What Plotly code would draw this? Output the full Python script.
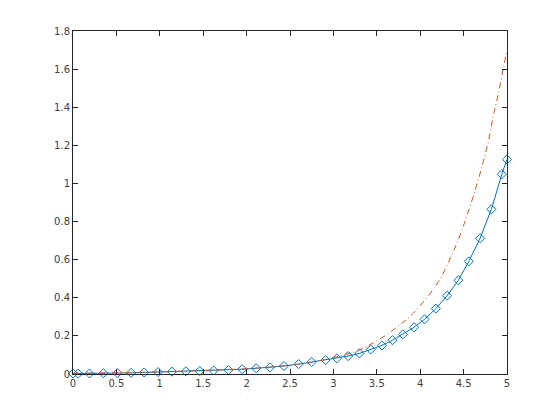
import plotly.graph_objects as go

blue_x = [0, 0.06, 0.19, 0.35, 0.51, 0.67, 0.82, 0.98, 1.14, 1.30, 1.46, 1.62, 1.79, 1.95,
          2.11, 2.27, 2.43, 2.60, 2.75, 2.91, 3.04, 3.17, 3.30, 3.43, 3.56, 3.68, 3.80,
          3.93, 4.05, 4.18, 4.31, 4.44, 4.56, 4.69, 4.82, 4.94, 5.0]
blue_y = [0.002, 0.002, 0.003, 0.004, 0.005, 0.006, 0.008, 0.010, 0.012, 0.014, 0.016,
          0.018, 0.021, 0.025, 0.030, 0.035, 0.042, 0.052, 0.063, 0.073, 0.082, 0.094,
          0.108, 0.129, 0.150, 0.177, 0.208, 0.245, 0.287, 0.343, 0.411, 0.492, 0.591,
          0.712, 0.864, 1.048, 1.126]

red_x = [0, 0.5, 1.0, 1.5, 2.08, 2.31, 2.50, 2.69, 2.88, 3.04, 3.19, 3.34, 3.46, 3.61,
         3.76, 3.88, 4.11, 4.23, 4.35, 4.46, 4.56, 4.67, 4.73, 4.79, 4.84, 4.90, 4.96, 5.0]
red_y = [0.004, 0.007, 0.011, 0.018, 0.030, 0.038, 0.047, 0.056, 0.073, 0.091, 0.108,
         0.135, 0.164, 0.205, 0.257, 0.30, 0.42, 0.50, 0.61, 0.73, 0.86, 1.02, 1.12,
         1.23, 1.35, 1.47, 1.61, 1.70]

x_ticks = [0, 0.5, 1, 1.5, 2, 2.5, 3, 3.5, 4, 4.5, 5]
x_labels = ["0", "0.5", "1", "1.5", "2", "2.5", "3", "3.5", "4", "4.5", "5"]
y_ticks = [0, 0.2, 0.4, 0.6, 0.8, 1, 1.2, 1.4, 1.6, 1.8]
y_labels = ["0", "0.2", "0.4", "0.6", "0.8", "1", "1.2", "1.4", "1.6", "1.8"]

fig = go.Figure()
fig.add_trace(go.Scatter(
    x=blue_x, y=blue_y, mode="lines+markers",
    line=dict(color="#0072BD", width=1),
    marker=dict(symbol="diamond-open", size=7, color="#0072BD", line=dict(width=1)),
    cliponaxis=False, showlegend=False))
fig.add_trace(go.Scatter(
    x=red_x, y=red_y, mode="lines",
    line=dict(color="#D95319", width=1, dash="6px,3px,1px,3px", shape="spline"),
    showlegend=False))

axis_common = dict(showline=True, linecolor="#262626", linewidth=1, mirror="ticks",
                   ticks="inside", ticklen=5, tickcolor="#262626", showgrid=False,
                   zeroline=False, tickfont=dict(family="DejaVu Sans", size=10, color="#404040"))
fig.update_xaxes(range=[0, 5], tickvals=x_ticks, ticktext=x_labels, **axis_common)
fig.update_yaxes(range=[0, 1.8], tickvals=y_ticks, ticktext=y_labels, **axis_common)
fig.update_layout(width=560, height=420, margin=dict(l=65, r=61, t=23, b=54),
                  paper_bgcolor="white", plot_bgcolor="white")
fig.write_html("out.html")
